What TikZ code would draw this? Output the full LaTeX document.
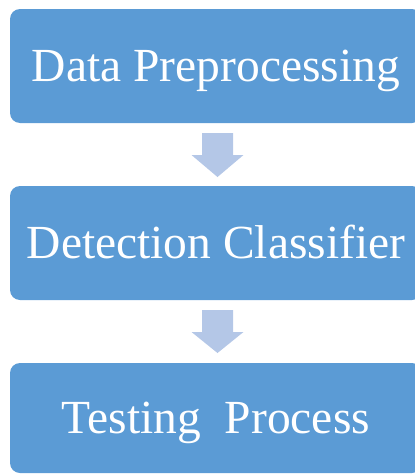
\documentclass[tikz,border=0pt]{standalone}
\usepackage{fontspec}
\setmainfont{Liberation Serif}
\definecolor{boxblue}{HTML}{5B9BD5}
\definecolor{arrowblue}{HTML}{B4C7E7}
\begin{document}
\begin{tikzpicture}[x=1pt,y=-1pt,
  stagebox/.style={fill=boxblue, draw=none, rounded corners=10pt, minimum width=412pt,
    inner sep=0pt, text=white, font=\fontsize{47.5}{50}\selectfont,
    text height=31.5pt, text depth=0pt},
  downarrow/.style={fill=arrowblue, draw=none}]
\useasboundingbox (0,0) rectangle (415,474);
\clip (0,0) rectangle (415,474);
\node[stagebox, minimum height=114pt] (pre) at (216,66) {Data Preprocessing};
\node[stagebox, minimum height=114pt] (det) at (216,243) {Detection Classifier};
\node[stagebox, minimum height=110pt] (tst) at (216,418) {Testing\ \ Process};
\coordinate (a1) at (217.5,133);
\coordinate (a2) at (217.5,310);
\fill[downarrow] (a1) ++(-15.5,0) -- ++(31,0) -- ++(0,22) -- ++(10.5,0)
  -- ++(-26,22) -- ++(-26,-22) -- ++(10.5,0) -- cycle;
\fill[downarrow] (a2) ++(-15.5,0) -- ++(31,0) -- ++(0,22) -- ++(10.5,0)
  -- ++(-26,21) -- ++(-26,-21) -- ++(10.5,0) -- cycle;
\end{tikzpicture}
\end{document}
